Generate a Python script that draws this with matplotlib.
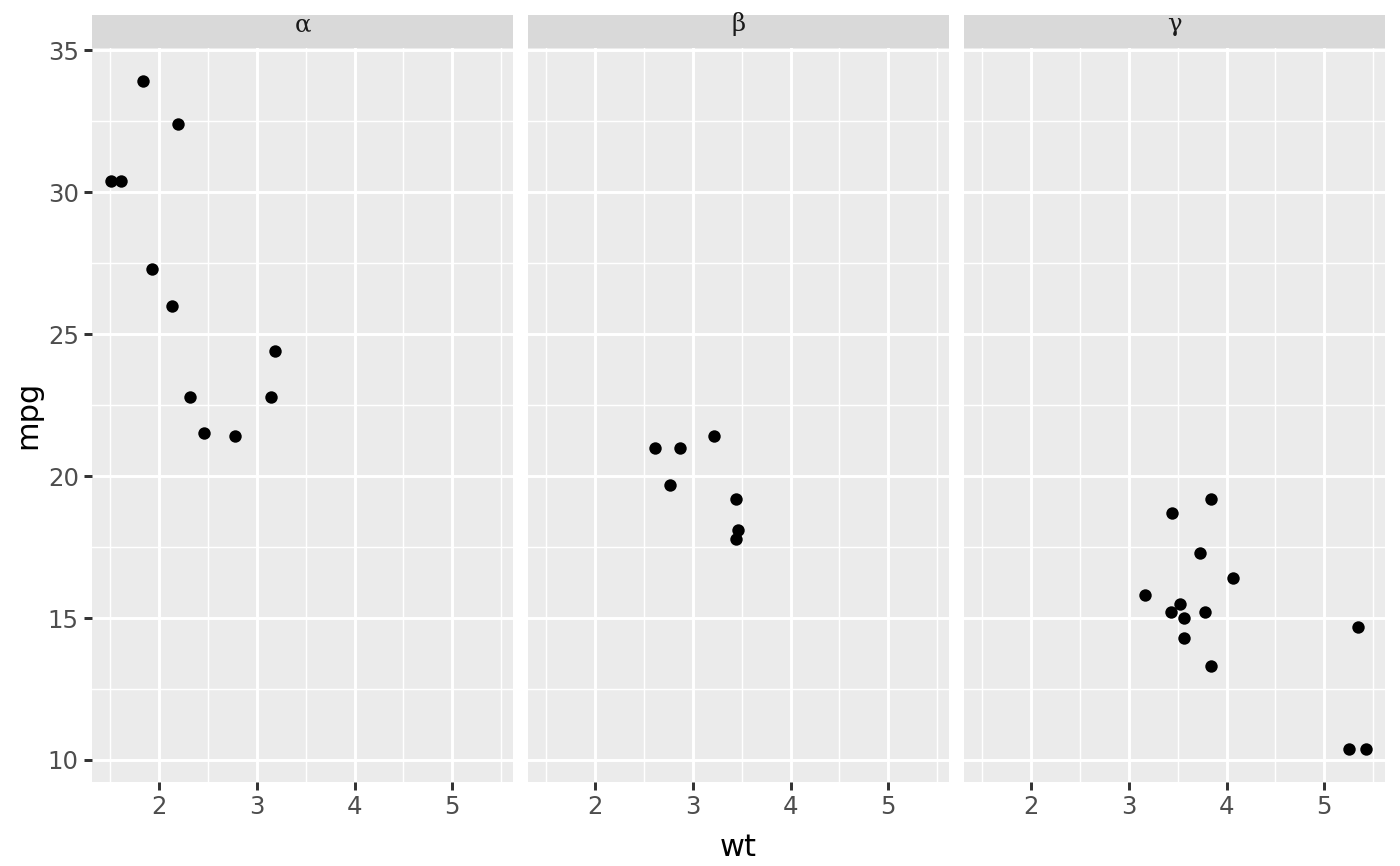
import numpy as np
import matplotlib
matplotlib.use("Agg")
import matplotlib.pyplot as plt

# mtcars, split by cylinders
wt_4 = [2.320, 3.190, 3.150, 2.200, 1.615, 1.835, 2.465, 1.935, 2.140, 1.513, 2.780]
mpg_4 = [22.8, 24.4, 22.8, 32.4, 30.4, 33.9, 21.5, 27.3, 26.0, 30.4, 21.4]
wt_6 = [2.620, 2.875, 3.215, 3.460, 3.440, 3.440, 2.770]
mpg_6 = [21.0, 21.0, 21.4, 18.1, 19.2, 17.8, 19.7]
wt_8 = [3.440, 3.570, 4.070, 3.730, 3.780, 5.250, 5.424, 5.345, 3.520, 3.435, 3.840, 3.845, 3.170, 3.570]
mpg_8 = [18.7, 14.3, 16.4, 17.3, 15.2, 10.4, 10.4, 14.7, 15.5, 15.2, 13.3, 19.2, 15.8, 15.0]

facet_labels = ["α", "β", "γ"]
xs = [wt_4, wt_6, wt_8]
ys = [mpg_4, mpg_6, mpg_8]
xticks = [2, 3, 4, 5]
yticks = [10, 15, 20, 25, 30, 35]

allx = wt_4 + wt_6 + wt_8
ally = mpg_4 + mpg_6 + mpg_8
dx = (max(allx) - min(allx)) * 0.05
dy = (max(ally) - min(ally)) * 0.05
xlim = (min(allx) - dx, max(allx) + dx)
ylim = (min(ally) - dy, max(ally) + dy)

fig = plt.figure(figsize=(7, 4.33), dpi=200)
W, H = 1400, 866
left0 = 92
pw = 421
gap = 15
ptop = 48
pbot = 782
strip_top = 15

for i in range(3):
    x0 = left0 + i * (pw + gap)
    ax = fig.add_axes([x0 / W, 1 - pbot / H, pw / W, (pbot - ptop) / H])
    ax.set_facecolor("#EBEBEB")
    ax.scatter(xs[i], ys[i], s=20, color="black", zorder=3, linewidths=0)
    ax.set_xlim(xlim)
    ax.set_ylim(ylim)
    ax.set_xticks(xticks)
    ax.set_yticks(yticks)
    ax.set_xticks([1.5, 2.5, 3.5, 4.5, 5.5], minor=True)
    ax.set_yticks([12.5, 17.5, 22.5, 27.5, 32.5], minor=True)
    ax.grid(which="major", color="white", linewidth=1.07)
    ax.grid(which="minor", color="white", linewidth=0.53)
    ax.set_axisbelow(True)
    for s in ax.spines.values():
        s.set_visible(False)
    ax.tick_params(which="major", length=2.75, width=1.07, color="#333333",
                   labelsize=8.8, labelcolor="#4D4D4D", pad=2)
    ax.tick_params(which="minor", length=0)
    if i > 0:
        ax.tick_params(axis="y", which="both", left=False, labelleft=False)
    # strip
    sax = fig.add_axes([x0 / W, 1 - ptop / H, pw / W, (ptop - strip_top) / H])
    sax.set_facecolor("#D9D9D9")
    sax.set_xticks([])
    sax.set_yticks([])
    for s in sax.spines.values():
        s.set_visible(False)
    sax.text(0.5, 0.5, facet_labels[i], ha="center", va="baseline", fontsize=8.8,
             color="#1A1A1A", family="DejaVu Serif", transform=sax.transAxes)

fig.text((left0 + (3 * pw + 2 * gap) / 2) / W, 1 - 848 / H, "wt", ha="center",
         va="center", fontsize=11)
fig.text(28 / W, 1 - ((ptop + pbot) / 2) / H, "mpg", ha="center", va="center",
         fontsize=11, rotation=90)

fig.savefig("out.png", dpi=200, facecolor="white")
